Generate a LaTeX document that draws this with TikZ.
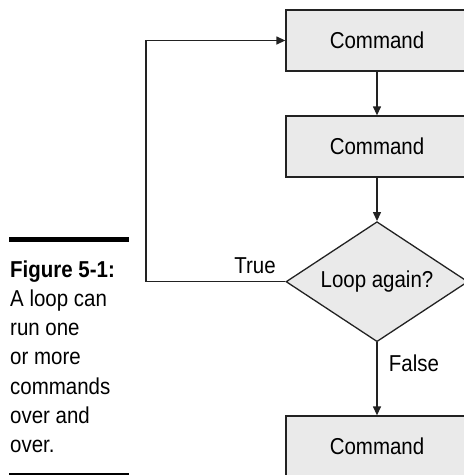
\documentclass[tikz,border=0pt]{standalone}
\usepackage{fontspec}
\setmainfont{Liberation Sans}[FakeStretch=0.89]
\usetikzlibrary{shapes.geometric,arrows.meta}
\definecolor{boxfill}{HTML}{EAEAEA}
\definecolor{linecol}{HTML}{222222}
\tikzset{
  cmdbox/.style={draw=linecol, fill=boxfill, line width=1.3pt, minimum width=182pt, minimum height=61pt, inner sep=0pt, font=\fontsize{23}{26}\selectfont},
  decision/.style={draw=linecol, fill=boxfill, line width=1.3pt, diamond, aspect=1.517, minimum width=182pt, minimum height=120pt, inner sep=0pt, font=\fontsize{23}{26}\selectfont},
  flow/.style={draw=linecol, line width=1.3pt, -{Triangle[length=9pt,width=8pt]}},
  plain/.style={draw=linecol, line width=1.3pt},
  lbl/.style={font=\fontsize{23}{26}\selectfont, inner sep=0pt},
  captxt/.style={font=\fontsize{23}{29}\selectfont, anchor=base west, inner sep=0pt}
}
\begin{document}
\begin{tikzpicture}[x=1pt,y=-1pt]
\useasboundingbox (0,0) rectangle (464,475);
\begin{scope}
\clip (0,0) rectangle (464,475);
\node[cmdbox] (c1) at (377,40.5) {Command};
\node[cmdbox] (c2) at (377,146.5) {Command};
\node[decision] (d) at (377,281.7) {Loop again?};
\node[cmdbox] (c3) at (377,446.5) {Command};
\end{scope}
\coordinate (lp) at (146,281.7);
\draw[flow] (c1) -- (c2);
\draw[flow] (c2) -- (d);
\draw[flow] (d) -- (c3);
\draw[plain] (d.west) -- (lp);
\draw[flow] (lp) |- (c1.west);
\node[lbl] (t) at (255,266) {True};
\node[lbl] (f) at (414,363) {False};
% caption
\coordinate (b1a) at (9,239);
\coordinate (b1b) at (129,239);
\draw[line width=5pt] (b1a) -- (b1b);
\coordinate (b2a) at (9,473.5);
\coordinate (b2b) at (129,473.5);
\draw[line width=2pt] (b2a) -- (b2b);
\node[captxt] (k1) at (10,277) {\bfseries Figure 5-1:};
\node[captxt] (k2) at (10,306.5) {A loop can};
\node[captxt] (k3) at (10,335.5) {run one};
\node[captxt] (k4) at (10,364.5) {or more};
\node[captxt] (k5) at (10,394) {commands};
\node[captxt] (k6) at (10,423) {over and};
\node[captxt] (k7) at (10,452.5) {over.};
\end{tikzpicture}
\end{document}
